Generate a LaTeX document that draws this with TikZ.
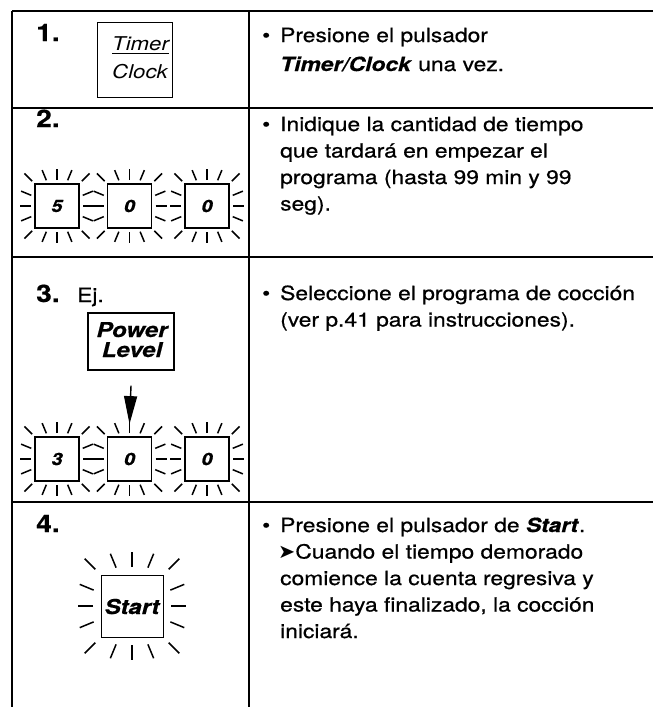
\documentclass[tikz,border=0pt]{standalone}
\usepackage{fontspec}
\setmainfont[FakeStretch=1.17,FakeBold=0.6]{TeX Gyre Heros}
\newfontfamily\keyfont[FakeStretch=1.17]{TeX Gyre Heros}
\newfontfamily\arrowfont[FakeStretch=1.05]{DejaVu Sans}
\usetikzlibrary{arrows.meta}
\tikzset{
  grid/.style={line width=1.6pt},
  numlbl/.style={font=\fontsize{24}{24}\selectfont\bfseries, anchor=base west, inner sep=0},
  txt/.style={font=\fontsize{19.5}{26}\selectfont, anchor=base west, inner sep=0},
  digit/.style={draw, line width=1.8pt, minimum width=44pt, minimum height=44pt, inner sep=0,
    font=\fontsize{17}{17}\selectfont\bfseries\itshape},
  ray/.style={line width=1.5pt},
  keylbl/.style={inner sep=0, font=\keyfont\fontsize{19}{19}\selectfont\itshape},
  keybold/.style={inner sep=0, font=\fontsize{20.5}{20.5}\selectfont\bfseries\itshape}
}
\newcommand\burst[4]{%
  \foreach \a in {0,22.5,...,337.5}{%
    \pgfmathsetmacro\ra{#2/max(abs(cos(\a)),abs(sin(\a)))+#3}%
    \pgfmathsetmacro\rb{\ra+#4}%
    \draw[ray] ([shift={(\a:\ra pt)}]#1.center) -- ([shift={(\a:\rb pt)}]#1.center);
  }}
\begin{document}
\begin{tikzpicture}[x=1pt,y=-1pt]
\useasboundingbox (0,0) rectangle (653,707);
% table
\draw[grid] (12,11) -- (653,11);
\draw[grid] (12,108) -- (653,108);
\draw[grid] (12,257) -- (653,257);
\draw[grid] (12,502) -- (653,502);
\draw[grid] (12,11) -- (12,707);
\draw[grid] (249,11) -- (249,707);
% numbers
\node[numlbl] (n1) at (36,41) {1.};
\node[numlbl] (n2) at (36,127) {2.};
\node[numlbl] (n3) at (36,302) {3.};
\node[numlbl] (n4) at (36,532) {4.};
% step 1
\node[draw, line width=1pt, minimum width=75pt, minimum height=75pt, inner sep=0] (tc) at (134.5,59.5) {};
\node[keylbl, anchor=base west] (tim) at (112,50) {Timer};
\draw[line width=1pt] ([yshift=-3.5pt]tim.base west) -- ([yshift=-3.5pt]tim.base east);
\node[keylbl, anchor=base west] (clk) at (112,78) {Clock};
\node[txt] (b1) at (262,42) {•};
\node[txt] (t1a) at (280,42) {Presione el pulsador};
\node[txt] (t1b) at (280,71) {\textbf{\textit{Timer/Clock}} una vez.};
% step 2
\node[digit] (a1) at (57,206) {5};
\node[digit] (a2) at (129.5,206) {0};
\node[digit] (a3) at (207,206) {0};
\burst{a1}{22}{4}{11}
\burst{a2}{22}{4}{11}
\burst{a3}{22}{4}{11}
\node[txt] (b2) at (262,131) {•};
\node[txt] (t2a) at (280,131) {Inidique la cantidad de tiempo};
\node[txt] (t2b) at (280,157.5) {que tardará en empezar el};
\node[txt] (t2c) at (280,184) {programa (hasta 99 min y 99};
\node[txt] (t2d) at (280,210.5) {seg).};
% step 3
\node[txt] (ej) at (77,302) {Ej.};
\node[draw, line width=1.3pt, minimum width=86pt, minimum height=57pt, inner sep=0] (pl) at (131,341.5) {};
\node[keybold, anchor=base] (pw) at (132,337) {Power};
\node[keybold, anchor=base] (lv) at (132,357) {Level};
\node[digit] (e1) at (57,459) {3};
\node[digit] (e2) at (129.5,459) {0};
\node[digit] (e3) at (207,459) {0};
\burst{e1}{22}{4}{11}
\burst{e2}{22}{4}{11}
\burst{e3}{22}{4}{11}
\draw[line width=1.4pt, -{Triangle[length=28pt, width=13pt]}] ([yshift=-15pt]pl.south) -- ([yshift=12pt]e2.north);
\node[txt] (b3) at (262,300) {•};
\node[txt] (t3a) at (280,300) {Seleccione el programa de cocción};
\node[txt] (t3b) at (280,326.5) {(ver p.41 para instrucciones).};
% step 4
\node[draw, line width=1pt, minimum width=62pt, minimum height=62pt, inner sep=0] (st) at (132,606) {};
\node[keybold, anchor=base] (stt) at (132,614) {Start};
\burst{st}{31}{8}{15}
\node[txt] (b4) at (262,532) {•};
\node[txt] (t4a) at (280,532) {Presione el pulsador de \textbf{\textit{Start}}.};
\node[txt] (t4b) at (278,558.5) {{\arrowfont ➤}Cuando el tiempo demorado};
\node[txt] (t4c) at (280,585) {comience la cuenta regresiva y};
\node[txt] (t4d) at (280,611.5) {este haya finalizado, la cocción};
\node[txt] (t4e) at (280,638) {iniciará.};
\end{tikzpicture}
\end{document}
